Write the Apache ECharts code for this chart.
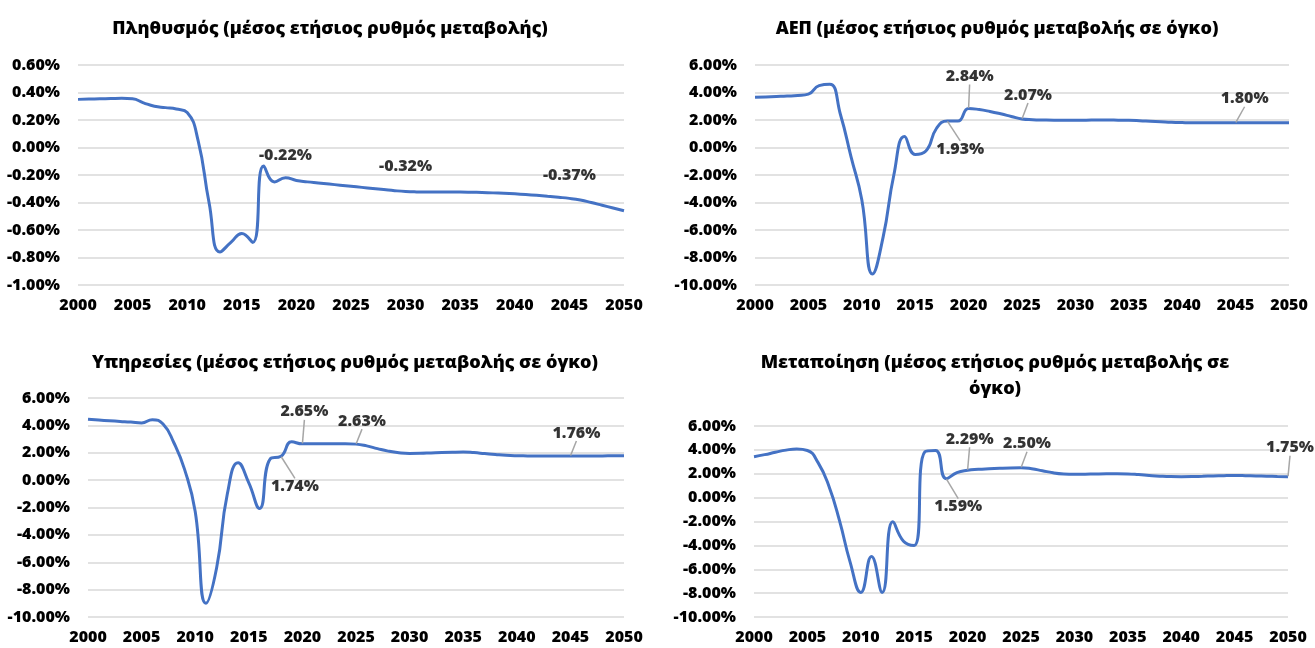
<!DOCTYPE html>
<html><head><meta charset="utf-8">
<script src="https://cdn.jsdelivr.net/npm/echarts@6/dist/echarts.min.js"></script>
<style>html,body{margin:0;padding:0;background:#fff}#c{width:1315px;height:648px}</style>
</head><body><div id="c"></div>
<script>
const years = [2000,2001,2002,2003,2004,2005,2006,2007,2008,2009,2010,2011,2012,2013,2014,2015,2016,2017,2018,2019,2020,2021,2022,2023,2024,2025,2026,2027,2028,2029,2030,2031,2032,2033,2034,2035,2036,2037,2038,2039,2040,2041,2042,2043,2044,2045,2046,2047,2048,2049,2050];

const population = [0.350,0.352,0.354,0.356,0.358,0.354,0.325,0.300,0.290,0.280,0.255,0.050,-0.400,-0.760,-0.690,-0.625,-0.690,-0.135,-0.250,-0.220,-0.240,-0.250,-0.258,-0.266,-0.274,-0.282,-0.290,-0.298,-0.306,-0.314,-0.320,-0.323,-0.324,-0.324,-0.324,-0.324,-0.325,-0.327,-0.330,-0.333,-0.337,-0.342,-0.348,-0.355,-0.362,-0.370,-0.382,-0.400,-0.420,-0.440,-0.460];

const gdp = [3.65,3.68,3.71,3.74,3.78,3.88,4.50,4.60,2.40,-0.70,-3.80,-9.20,-6.50,-2.00,0.80,-0.50,-0.25,1.40,1.93,1.92,2.84,2.76,2.62,2.45,2.26,2.07,2.02,2.00,1.99,1.99,1.99,1.99,2.00,2.00,1.99,1.98,1.95,1.91,1.87,1.83,1.81,1.80,1.80,1.80,1.80,1.80,1.80,1.80,1.80,1.80,1.80];

const services = [4.44,4.39,4.34,4.29,4.24,4.18,4.42,4.10,2.75,0.80,-2.30,-9.00,-6.40,-1.00,1.27,-0.20,-2.07,1.55,1.74,2.80,2.65,2.65,2.65,2.66,2.66,2.63,2.50,2.30,2.12,2.00,1.95,1.96,1.99,2.02,2.04,2.05,2.01,1.94,1.87,1.81,1.78,1.77,1.76,1.76,1.76,1.76,1.76,1.77,1.77,1.78,1.78];

const manufacturing = [3.43,3.60,3.80,3.98,4.07,3.95,2.93,1.00,-1.90,-5.40,-7.94,-4.93,-7.94,-2.03,-3.65,-4.00,3.85,3.95,1.59,2.09,2.29,2.37,2.42,2.46,2.49,2.50,2.42,2.25,2.08,1.98,1.95,1.96,1.98,1.99,1.99,1.98,1.93,1.86,1.80,1.76,1.75,1.76,1.79,1.82,1.84,1.85,1.84,1.82,1.80,1.77,1.75];

const titles = [
  "Πληθυσμός (μέσος ετήσιος ρυθμός μεταβολής)",
  "ΑΕΠ (μέσος ετήσιος ρυθμός μεταβολής σε όγκο)",
  "Υπηρεσίες (μέσος ετήσιος ρυθμός μεταβολής σε όγκο)",
  "Μεταποίηση (μέσος ετήσιος ρυθμός μεταβολής σε\nόγκο)"
];

// years that carry a data label in each panel
const popLabelYears = [2019, 2030, 2045];
const gdpLabelYears = [2018, 2020, 2025, 2045];
const servicesLabelYears = [2018, 2020, 2025, 2045];
const manufLabelYears = [2018, 2020, 2025, 2050];

// y-axis ranges
const popAxis = {min: -1, max: 0.6, interval: 0.2};
const growthAxis = {min: -10, max: 6, interval: 2};

// ---- layout / style (not data) ----
const grids = [
  {left: 78, right: 691, top: 65, bottom: 363},
  {left: 755, right: 26, top: 65, bottom: 363},
  {left: 88, right: 691, top: 398, bottom: 31},
  {left: 754, right: 27, top: 426, bottom: 31}
];
const titlePos = [[330, 16], [997, 16], [345, 350], [995, 350]];
const labelOffsets = [
  [[0, -22], [0, -25], [0, -23]],
  [[13, 28], [1, -32], [6, -24], [9, -24]],
  [[14, 30], [2, -32], [6, -23], [6, -23]],
  [[12, 28], [2, -31], [6, -24], [2, -29]]
];
const showGuide = [false, true, true, true];
const FONT = '"Open Sans", "Noto Sans", sans-serif';
const TXT = '#000';
const W = 800;

const seriesSets = [population, gdp, services, manufacturing];
const labelYearSets = [popLabelYears, gdpLabelYears, servicesLabelYears, manufLabelYears];
const axes = [popAxis, growthAxis, growthAxis, growthAxis];

const option = {
  backgroundColor: '#fff',
  animation: false,
  title: titles.map((t, i) => ({
    text: t, left: titlePos[i][0], top: titlePos[i][1], padding: 0,
    textAlign: 'center', textVerticalAlign: 'top',
    textStyle: {fontFamily: FONT, fontWeight: W, fontSize: 18, color: TXT, lineHeight: 26}
  })),
  grid: grids.map(g => Object.assign({containLabel: false}, g)),
  xAxis: grids.map((g, i) => ({
    type: 'value', gridIndex: i, min: 2000, max: 2050, interval: 5,
    axisLine: {show: false}, axisTick: {show: false}, splitLine: {show: false},
    axisLabel: {fontFamily: FONT, fontWeight: W, fontSize: 16, color: TXT, margin: 12,
      formatter: v => String(v)}
  })),
  yAxis: axes.map((a, i) => ({
    type: 'value', gridIndex: i, min: a.min, max: a.max, interval: a.interval,
    axisLine: {show: false}, axisTick: {show: false},
    splitLine: {show: true, lineStyle: {color: '#d9d9d9', width: 1.5}},
    axisLabel: {fontFamily: FONT, fontWeight: W, fontSize: 16, color: TXT, margin: 18,
      formatter: v => v.toFixed(2) + '%'}
  })),
  series: []
};

seriesSets.forEach((vals, i) => {
  option.series.push({
    type: 'line', xAxisIndex: i, yAxisIndex: i,
    data: years.map((y, k) => [y, vals[k]]),
    smooth: 0.5, showSymbol: false, symbol: 'none',
    lineStyle: {color: '#4472C4', width: 3}, z: 2
  });
});

seriesSets.forEach((vals, i) => {
  const offs = labelOffsets[i];
  option.series.push({
    type: 'scatter', xAxisIndex: i, yAxisIndex: i, z: 5,
    data: labelYearSets[i].map(y => [y, vals[years.indexOf(y)]]),
    symbol: 'circle', symbolSize: 1,
    itemStyle: {color: 'rgba(0,0,0,0)'},
    silent: true,
    label: {show: true, position: 'inside', fontFamily: FONT, fontWeight: W, fontSize: 16, color: TXT,
      formatter: p => p.value[1].toFixed(2) + '%'},
    labelLine: {show: showGuide[i], lineStyle: {color: '#a6a6a6', width: 1.5}},
    labelLayout: p => {
      const r = p.rect; const o = offs[p.dataIndex];
      return {x: r.x + r.width / 2 + o[0], y: r.y + r.height / 2 + o[1], align: 'center', verticalAlign: 'middle'};
    }
  });
});

const chart = echarts.init(document.getElementById('c'), null, {renderer: 'canvas'});
chart.setOption(option);
</script>
</body></html>
